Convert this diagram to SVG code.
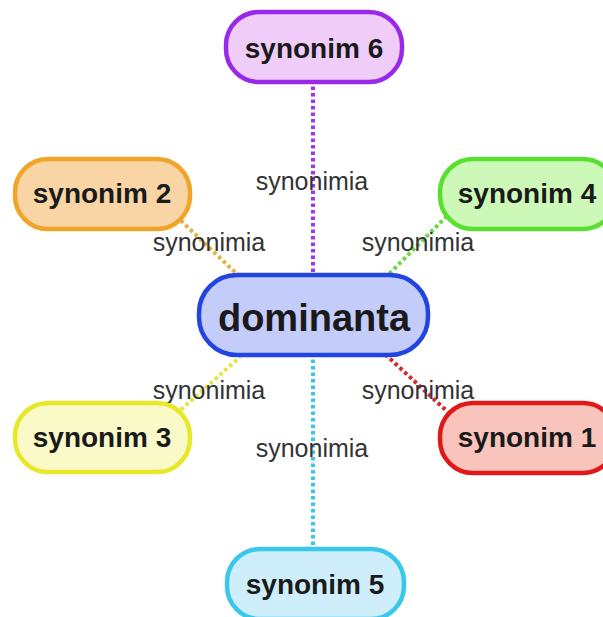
<svg xmlns="http://www.w3.org/2000/svg" width="603" height="617" viewBox="0 0 603 617">
<style>
.node rect{stroke-width:4.5}
.nt{font-family:"Liberation Sans",Arial,sans-serif;font-weight:bold;font-size:28px;fill:#1a1a1a;text-anchor:middle}
.big{font-size:38px}
.lbl{font-family:"Liberation Sans",Arial,sans-serif;font-size:25px;fill:#333;text-anchor:middle}
.edge{stroke-width:4;stroke-dasharray:3.5 3;fill:none}
</style>
<rect width="603" height="617" fill="#ffffff"/>
<g id="connectors">
<line class="edge" x1="313" y1="80" x2="313" y2="276" stroke="#a035f0"/>
<line class="edge" x1="313" y1="353" x2="313" y2="551" stroke="#35c8e8"/>
<line class="edge" x1="176" y1="216" x2="240" y2="277" stroke="#e8b040"/>
<line class="edge" x1="447" y1="216" x2="386" y2="277" stroke="#6ad848"/>
<line class="edge" x1="176" y1="414" x2="240" y2="357" stroke="#e4e440"/>
<line class="edge" x1="450" y1="414" x2="386" y2="355" stroke="#d82828"/>
</g>
<g id="labels">
<text class="lbl" x="312" y="190">synonimia</text>
<text class="lbl" x="209" y="251">synonimia</text>
<text class="lbl" x="418" y="251">synonimia</text>
<text class="lbl" x="209" y="399">synonimia</text>
<text class="lbl" x="418" y="399">synonimia</text>
<text class="lbl" x="312" y="457">synonimia</text>
</g>
<g id="dominanta" class="node">
<rect x="199" y="275" width="229" height="80" rx="38" fill="#c4ccfa" stroke="#2244e0"/>
<text class="nt big" x="314" y="331">dominanta</text>
</g>
<g id="synonim6" class="node">
<rect x="226" y="12" width="176" height="70" rx="33" fill="#f0cdf8" stroke="#9a28e8"/>
<text class="nt" x="314" y="58">synonim 6</text>
</g>
<g id="synonim2" class="node">
<rect x="15" y="159" width="175" height="70" rx="33" fill="#f9d4a4" stroke="#f0a428"/>
<text class="nt" x="102" y="203">synonim 2</text>
</g>
<g id="synonim4" class="node">
<rect x="440" y="159" width="176" height="70" rx="33" fill="#ccf8b8" stroke="#58e030"/>
<text class="nt" x="527" y="203">synonim 4</text>
</g>
<g id="synonim3" class="node">
<rect x="15" y="403" width="175" height="69" rx="33" fill="#fafac8" stroke="#e8e82a"/>
<text class="nt" x="102" y="447">synonim 3</text>
</g>
<g id="synonim1" class="node">
<rect x="440" y="403" width="176" height="70" rx="33" fill="#f8c4bc" stroke="#e01818"/>
<text class="nt" x="527" y="447">synonim 1</text>
</g>
<g id="synonim5" class="node">
<rect x="227" y="549" width="177" height="70" rx="33" fill="#cdeefa" stroke="#38c8ea"/>
<text class="nt" x="315" y="594">synonim 5</text>
</g>
</svg>
